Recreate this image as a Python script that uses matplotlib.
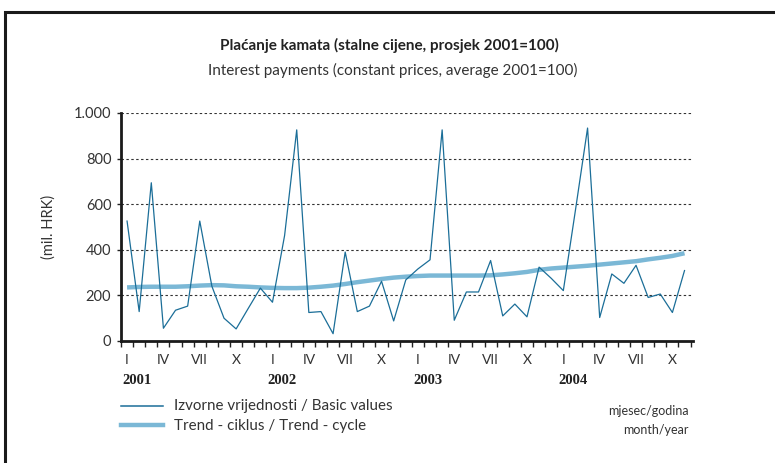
"""
Interest payments chart: basic values and trend-cycle, monthly 2001-2004
"""

import matplotlib

matplotlib.use("Agg")
import matplotlib.pyplot as plt
from matplotlib.patches import Rectangle
from matplotlib.ticker import FuncFormatter

# data (mil. HRK), Jan 2001 - Nov 2004
basic_values = [
    526, 129, 694, 56, 135, 153, 526, 240, 100, 53, 143, 232,
    170, 463, 926, 125, 129, 32, 390, 129, 153, 262, 88, 268,
    316, 356, 926, 91, 215, 215, 353, 110, 162, 106, 324, 275,
    221, 574, 934, 103, 294, 253, 332, 191, 206, 125, 309,
]
trend_cycle = [
    235, 237, 238, 238, 238, 240, 243, 245, 244, 240, 238, 235,
    233, 232, 232, 234, 238, 243, 250, 258, 265, 272, 278, 282,
    285, 287, 287, 287, 287, 287, 288, 292, 297, 303, 312, 318,
    322, 326, 330, 335, 340, 345, 350, 358, 365, 373, 385,
]
month_labels = ["I", "IV", "VII", "X"]
years = ["2001", "2002", "2003", "2004"]
y_ticks = [0, 200, 400, 600, 800, 1000]

# colors
basic_color = "#1b6e98"
trend_color = "#7bb8d6"
text_color = "#333333"

plt.rcParams["font.family"] = ["Lato", "DejaVu Sans"]

W, H = 775, 463
fig = plt.figure(figsize=(W / 100, H / 100), dpi=100)

# frame around the chart (only left and top edges visible)
fig.patches.append(
    Rectangle((5 / W, -0.2), 1.2, 1 - 12 / H + 0.2, transform=fig.transFigure,
              fill=False, edgecolor="#1a1a1a", linewidth=2.2)
)

ax = fig.add_axes([121 / W, 1 - 341 / H, (693 - 121) / W, (341 - 113) / H])

x = list(range(len(basic_values)))
ax.plot(x, trend_cycle, color=trend_color, linewidth=3.2, solid_capstyle="butt", zorder=3)
ax.plot(x, basic_values, color=basic_color, linewidth=0.9, zorder=4)

ax.set_xlim(-0.5, 46.7)
ax.set_ylim(0, 1000)

# y axis
ax.set_yticks(y_ticks)
ax.yaxis.set_major_formatter(FuncFormatter(lambda v, p: f"{int(v):,}".replace(",", ".")))
ax.tick_params(axis="y", length=3, width=1, color="#222222", labelsize=10.5,
               labelcolor=text_color, pad=4)
for v in y_ticks[1:]:
    ax.axhline(v, color="#333333", linewidth=0.8, linestyle=(0, (2.2, 2.2)), zorder=1)

# x axis: labels at months, ticks at month boundaries
label_pos = [12 * yi + m for yi in range(len(years)) for m in (0, 3, 6, 9)]
ax.set_xticks(label_pos)
ax.set_xticklabels(month_labels * len(years))
ax.set_xticks([k - 0.5 for k in range(48)], minor=True)
ax.tick_params(axis="x", which="major", length=0, labelsize=10, labelcolor=text_color, pad=9)
ax.tick_params(axis="x", which="minor", length=4, width=1, color="#222222")

for side in ("top", "right"):
    ax.spines[side].set_visible(False)
for side in ("left", "bottom"):
    ax.spines[side].set_linewidth(2)
    ax.spines[side].set_color("#1a1a1a")

ax.set_ylabel("(mil. HRK)", fontsize=10.5, color=text_color, labelpad=13)

# year labels
for yi, year in enumerate(years):
    xf = ax.transData.transform((12 * yi, 0))[0] / W
    fig.text(xf - 5 / W, 1 - 380 / H, year, family="Liberation Serif", weight="bold",
             fontsize=10.5, color="#222222", ha="left", va="center")

# titles
fig.text(389 / W, 1 - 45 / H, "Plaćanje kamata (stalne cijene, prosjek 2001=100)",
         ha="center", va="center", fontsize=11, weight="bold", color="#222222")
fig.text(393 / W, 1 - 70 / H, "Interest payments (constant prices, average 2001=100)",
         ha="center", va="center", fontsize=11, color=text_color)

# legend drawn by hand below the axis
fig.lines.append(plt.Line2D([121 / W, 163 / W], [1 - 406 / H] * 2, color=basic_color,
                            linewidth=1.1, transform=fig.transFigure))
fig.lines.append(plt.Line2D([121 / W, 163 / W], [1 - 425 / H] * 2, color=trend_color,
                            linewidth=3.2, transform=fig.transFigure))
fig.text(174 / W, 1 - 406 / H, "Izvorne vrijednosti / Basic values", ha="left", va="center",
         fontsize=10.9, color=text_color)
fig.text(174 / W, 1 - 426 / H, "Trend - ciklus / Trend - cycle", ha="left", va="center",
         fontsize=10.9, color=text_color)
fig.text(689 / W, 1 - 411 / H, "mjesec/godina", ha="right", va="center",
         fontsize=9, color=text_color)
fig.text(689 / W, 1 - 430 / H, "month/year", ha="right", va="center",
         fontsize=9, color=text_color)

fig.savefig("out.png", dpi=100)
